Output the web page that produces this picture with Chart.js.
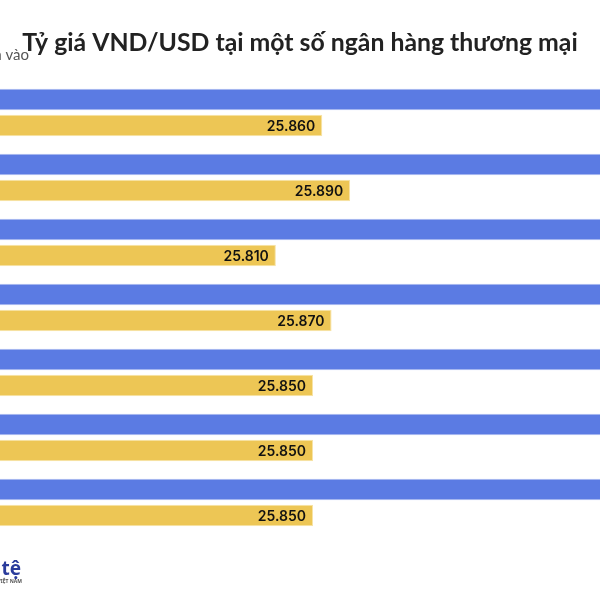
<!DOCTYPE html>
<html>
<head>
<meta charset="utf-8">
<script src="https://cdn.jsdelivr.net/npm/chart.js@4/dist/chart.umd.min.js"></script>
<style>
  body { margin: 0; background: #fff; }
</style>
</head>
<body>
<canvas id="rateChart" width="600" height="600"></canvas>
<script>
// ngân hàng (tên bị cắt khỏi ảnh)
const banks = ["Vietcombank", "BIDV", "VietinBank", "Agribank", "Techcombank", "ACB", "Sacombank"];
// giá bán ra (ước lượng, phần lớn nằm ngoài khung)
const sellRates = [26220, 26250, 26170, 26230, 26210, 26210, 26210];
// giá mua vào
const buyRates = [25860, 25890, 25810, 25870, 25850, 25850, 25850];

const fmt = v => v.toLocaleString("de-DE");

const textPlugin = {
    id: "texts",
    afterDraw(chart) {
        const ctx = chart.ctx;
        ctx.save();
        // tiêu đề: co cỡ chữ cho vừa bề rộng
        const title = "Tỷ giá VND/USD tại một số ngân hàng thương mại";
        let size = 28;
        ctx.font = "bold " + size + "px Lato";
        const w = ctx.measureText(title).width;
        if (w > 556) size = size * 556 / w;
        ctx.font = "bold " + size.toFixed(1) + "px Lato";
        ctx.fillStyle = "#222";
        ctx.textAlign = "center";
        ctx.textBaseline = "alphabetic";
        ctx.fillText(title, 300, 51);
        // chú thích
        ctx.fillStyle = "#555";
        ctx.font = "15px Lato";
        ctx.textAlign = "right";
        ctx.fillText("Giá mua vào", 29, 60);
        // logo
        ctx.fillStyle = "#2a3c9c";
        ctx.font = "bold 19px 'Noto Sans'";
        ctx.fillText("Tiền tệ", 21, 575);
        ctx.fillStyle = "#555";
        ctx.font = "bold 5px 'Noto Sans'";
        ctx.fillText("VIỆT NAM", 22, 583);

        // nhãn giá mua vào
        const meta = chart.getDatasetMeta(1);
        ctx.font = "600 14px Inter";
        ctx.textAlign = "right";
        ctx.textBaseline = "middle";
        ctx.lineJoin = "round";
        meta.data.forEach((bar, i) => {
            const label = fmt(buyRates[i]);
            ctx.strokeStyle = "#eec653";
            ctx.lineWidth = 3;
            ctx.strokeText(label, bar.x - 7, bar.y + 1);
            ctx.fillStyle = "#111";
            ctx.fillText(label, bar.x - 7, bar.y + 1);
        });
        ctx.restore();
    }
};

new Chart(document.getElementById("rateChart"), {
    type: "bar",
    data: {
        labels: banks,
        datasets: [{
            label: "Giá bán ra",
            data: sellRates,
            backgroundColor: "#5b7be3",
            borderColor: "#a9b9f1",
            borderWidth: 1,
            categoryPercentage: 0.8,
            barPercentage: 0.835
        }, {
            label: "Giá mua vào",
            data: buyRates,
            backgroundColor: "#edc655",
            borderColor: "#f7e3a6",
            borderWidth: 1,
            categoryPercentage: 0.8,
            barPercentage: 0.835
        }]
    },
    options: {
        indexAxis: "y",
        responsive: false,
        animation: false,
        layout: { padding: { top: 80, bottom: 65, left: 0, right: 0 } },
        plugins: {
            legend: { display: false },
            tooltip: { enabled: false }
        },
        scales: {
            x: { display: false, min: 25513, max: 26159 },
            y: { display: false }
        }
    },
    plugins: [textPlugin]
});
</script>
</body>
</html>
